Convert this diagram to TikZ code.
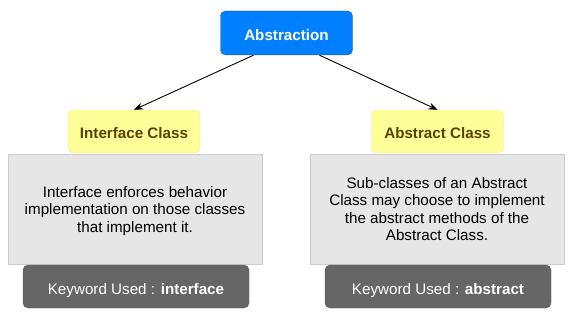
\documentclass[tikz,border=0pt]{standalone}
\usepackage{fontspec}
\setmainfont{Liberation Sans}
\usetikzlibrary{arrows.meta}
\definecolor{absblue}{RGB}{0,127,255}
\definecolor{absborder}{RGB}{55,85,125}
\definecolor{ylfill}{RGB}{255,255,153}
\definecolor{ylborder}{RGB}{235,235,160}
\definecolor{yltext}{RGB}{92,64,0}
\definecolor{grfill}{RGB}{230,230,230}
\definecolor{grborder}{RGB}{204,204,204}
\definecolor{dkfill}{RGB}{102,102,102}
\definecolor{dkborder}{RGB}{90,90,90}
\tikzset{
  oneline/.style={text height=15pt, text depth=0pt},
  topbox/.style={oneline, draw=absborder, fill=absblue, rounded corners=5pt, text=white, font=\fontsize{15.2}{17}\selectfont\bfseries, minimum width=132pt, minimum height=44pt, inner sep=0pt},
  classbox/.style={oneline, draw=ylborder, fill=ylfill, rounded corners=5pt, text=yltext, font=\fontsize{15.2}{17}\selectfont\bfseries, minimum width=132pt, minimum height=43pt, inner sep=0pt},
  descbox/.style={draw=grborder, fill=grfill, text=black, font=\fontsize{15.2}{17.5}\selectfont, text depth=0pt, minimum width=254pt, minimum height=110pt, inner sep=0pt, align=center},
  keybox/.style={oneline, draw=dkborder, fill=dkfill, rounded corners=5pt, text=white, font=\fontsize{15.2}{17}\selectfont, minimum width=226pt, minimum height=43pt, inner sep=0pt},
  conn/.style={draw=black, line width=0.9pt, -{Stealth[length=9pt,width=7pt]}}
}
\begin{document}
\begin{tikzpicture}[x=1pt,y=-1pt]
\useasboundingbox (0,0) rectangle (574,321);
\node[topbox] (abs) at (286.5,33) {Abstraction};
\node[classbox] (intf) at (134,131.5) {Interface Class};
\node[classbox] (absc) at (437.5,131.5) {Abstract Class};
\node[descbox] (dl) at (135,209) {Interface enforces behavior\\implementation on those classes\\that implement it.};
\node[descbox] (dr) at (437,209) {Sub-classes of an Abstract\\Class may choose to implement\\the abstract methods of the\\Abstract Class.};
\node[keybox] (kl) at (136,286.5) {Keyword Used : \textbf{interface}};
\node[keybox] (kr) at (438,286.5) {Keyword Used : \textbf{abstract}};
\draw[conn] ([xshift=-33pt]abs.south) -- (intf.north);
\draw[conn] ([xshift=33pt]abs.south) -- (absc.north);
\end{tikzpicture}
\end{document}
